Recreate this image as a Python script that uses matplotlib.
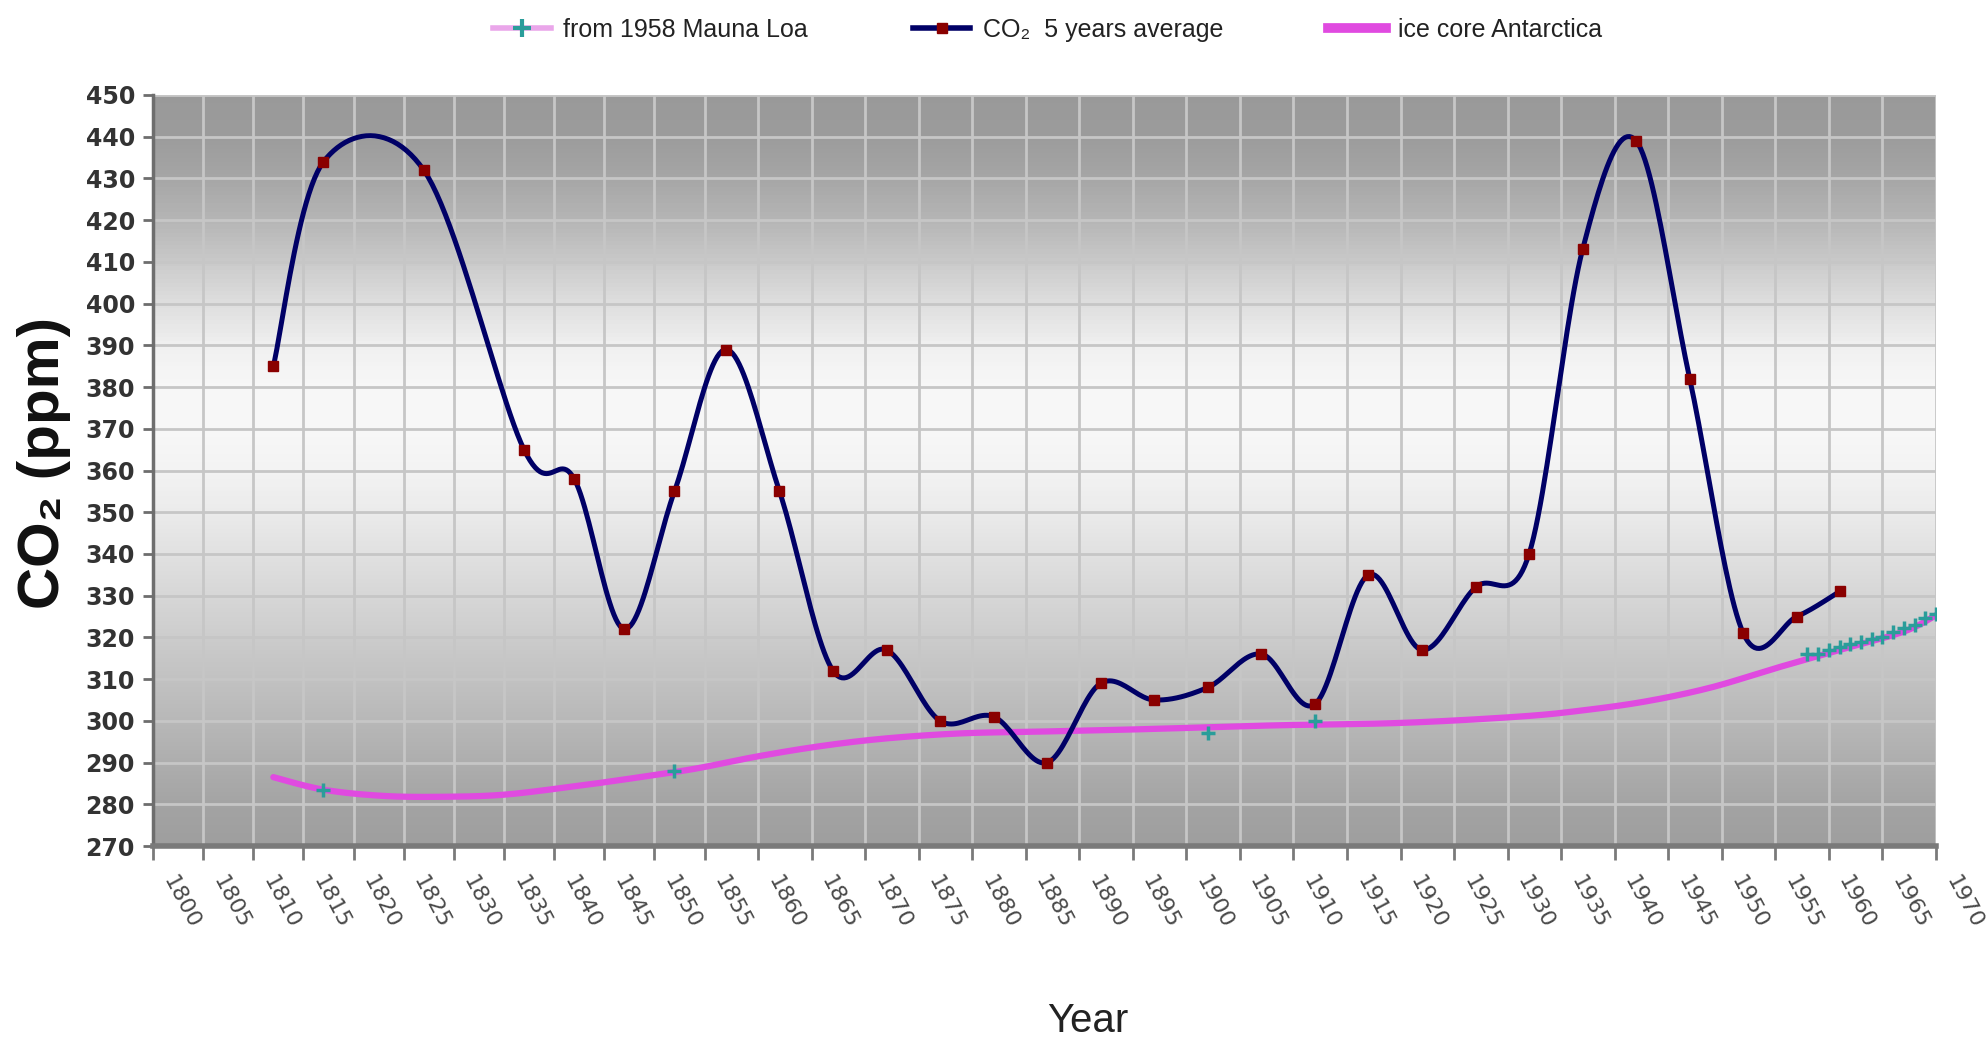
import numpy as np
import matplotlib
matplotlib.use("Agg")
import matplotlib.pyplot as plt
from matplotlib import font_manager
from matplotlib.lines import Line2D
from matplotlib.transforms import ScaledTranslation

# ---------------- data ----------------
co2_years = [1812, 1817, 1827, 1837, 1842, 1847, 1852, 1857, 1862, 1867,
             1872, 1877, 1882, 1887, 1892, 1897, 1902, 1907, 1912, 1917,
             1922, 1927, 1932, 1937, 1942, 1947, 1952, 1957, 1961]
co2_values = [385, 434, 432, 365, 358, 322, 355, 389, 355, 312,
              317, 300, 301, 290, 309, 305, 308, 316, 304, 335,
              317, 332, 340, 413, 439, 382, 321, 325, 331]

ice_years = [1812, 1817, 1823, 1829, 1835, 1842, 1848, 1854, 1860, 1866,
             1872, 1879, 1886, 1896, 1908, 1920, 1931, 1937, 1943, 1949,
             1955, 1961, 1967, 1970]
ice_values = [286.5, 283.5, 282.0, 281.8, 282.3, 284.3, 286.3, 288.5, 291.5, 294.0,
              295.8, 297.0, 297.4, 298.0, 298.9, 299.5, 301.0, 302.5, 304.7, 308.0,
              312.6, 317.0, 321.4, 325.3]

ml_years = [1817, 1852, 1902, 1912, 1958, 1959, 1960, 1961, 1962, 1963,
            1964, 1965, 1966, 1967, 1968, 1969, 1970]
ml_values = [283.5, 288.0, 297.0, 300.0, 316.0, 316.0, 316.9, 317.6, 318.5, 319.0,
             319.6, 320.0, 321.4, 322.2, 323.0, 324.6, 325.7]

x_ticks = list(range(1800, 1971, 5))
x_tick_labels = [str(y) for y in x_ticks]
y_ticks = list(range(270, 451, 10))

legend_labels = ["from 1958 Mauna Loa", "CO\u2082  5 years average", "ice core Antarctica"]

# ---------------- fonts ----------------
names = {f.name for f in font_manager.fontManager.ttflist}
HAS_NARROW = "Liberation Sans Narrow" in names
NARROW = ["Liberation Sans Narrow", "DejaVu Sans"] if HAS_NARROW else ["Liberation Sans", "DejaVu Sans"]
SANS = ["Liberation Sans", "DejaVu Sans"]

# ---------------- axis scale (image's year axis is slightly non-uniform) ----------------
BREAK = 1855.0
K = 53.5 / 50.1


def fwd(x):
    x = np.asarray(x, float)
    return np.where(x <= BREAK, x, BREAK + (x - BREAK) * K)


def inv(u):
    u = np.asarray(u, float)
    return np.where(u <= BREAK, u, BREAK + (u - BREAK) / K)


def smooth(xs, ys, n=24):
    """Excel-like smoothed line (uniform Catmull-Rom through the points)."""
    P = np.column_stack([fwd(xs), np.asarray(ys, float)])
    P = np.vstack([P[0], P, P[-1]])
    out = []
    t = np.linspace(0, 1, n, endpoint=False)[:, None]
    for i in range(1, len(P) - 2):
        p0, p1, p2, p3 = P[i - 1], P[i], P[i + 1], P[i + 2]
        seg = 0.5 * ((2 * p1) + (-p0 + p2) * t
                     + (2 * p0 - 5 * p1 + 4 * p2 - p3) * t ** 2
                     + (-p0 + 3 * p1 - 3 * p2 + p3) * t ** 3)
        out.append(seg)
    out.append(P[-2][None, :])
    out = np.vstack(out)
    return inv(out[:, 0]), out[:, 1]


# ---------------- figure ----------------
fig = plt.figure(figsize=(19.88, 10.42), dpi=100)
ax = fig.add_axes([153 / 1988, 1 - 846 / 1042, (1936 - 153) / 1988, (846 - 95) / 1042])
ax.set_xscale("function", functions=(fwd, inv))
ax.set_xlim(1800, 1970)
ax.set_ylim(270, 450)

# background vertical gradient
g_ppm = [270, 280, 290, 300, 310, 320, 330, 340, 350, 360, 370, 380, 390, 400, 410, 420, 430, 440, 450]
g_lvl = [0.62, 0.64, 0.68, 0.72, 0.76, 0.80, 0.84, 0.88, 0.92, 0.95, 0.97, 0.97, 0.94, 0.87, 0.79, 0.71, 0.65, 0.61, 0.60]
for v in np.arange(270, 450, 1.0):
    lv = float(np.interp(v + 0.5, g_ppm, g_lvl))
    ax.axhspan(v, v + 1, color=(lv, lv, lv), lw=0, zorder=0.5)

ax.set_axisbelow("line")
ax.grid(True, color="#c6c6c6", lw=2.0)

# series
ix, iy = smooth(ice_years, ice_values)
ax.plot(ix, iy, color="#e04ae0", lw=4.5, solid_capstyle="round", zorder=3)
ax.plot(ml_years, ml_values, ls="none", marker="+", ms=10, mew=2.5, color="#2a9d9a", zorder=4)
cx, cy = smooth(co2_years, co2_values)
ax.plot(cx, cy, color="#000066", lw=3.6, solid_capstyle="round", zorder=5)
ax.plot(co2_years, co2_values, ls="none", marker="s", ms=6.5, mfc="#8a0000", mec="#8a0000", zorder=6)

# axes styling
for s in ["top", "right"]:
    ax.spines[s].set_visible(False)
ax.spines["left"].set_color("#6e6e6e")
ax.spines["left"].set_linewidth(2.5)
ax.spines["bottom"].set_color("#7a7a7a")
ax.spines["bottom"].set_linewidth(4)

ax.set_yticks(y_ticks)
ax.set_yticklabels([str(v) for v in y_ticks])
ax.tick_params(axis="y", direction="out", length=7, width=2, color="#6e6e6e",
               labelsize=17, labelcolor="#333333", pad=6)
for lab in ax.get_yticklabels():
    lab.set_fontweight("bold")
    lab.set_family("DejaVu Sans")

ax.set_xticks(x_ticks)
ax.set_xticklabels(x_tick_labels)
ax.minorticks_off()
ax.tick_params(axis="x", direction="out", length=10, width=2, color="#7a7a7a",
               labelsize=16, labelcolor="#4a4a4a", pad=16)
shift = ScaledTranslation(4 / 72, 0, fig.dpi_scale_trans)
for lab in ax.get_xticklabels():
    lab.set_rotation(-62)
    lab.set_rotation_mode("anchor")
    lab.set_ha("left")
    lab.set_va("bottom")
    lab.set_family("DejaVu Sans")
    lab.set_transform(lab.get_transform() + shift)

# axis titles
fig.text(0.022, 0.556, "CO\u2082 (ppm)", rotation=90, ha="center", va="center",
         fontsize=42, fontweight="bold", family=SANS, color="#111111")
fig.text(0.547, 0.02, "Year", ha="center", va="center",
         fontsize=32 if HAS_NARROW else 29, family=NARROW, color="#222222")

# legend
h_ml = Line2D([], [], color="#eaa6ea", lw=4, marker="+", ms=13, mew=3, mec="#2a9d9a")
h_co2 = Line2D([], [], color="#000066", lw=4, marker="s", ms=7, mfc="#8a0000", mec="#8a0000")
h_ice = Line2D([], [], color="#e04ae0", lw=7)
fig.legend([h_ml, h_co2, h_ice], legend_labels, loc="center",
           bbox_to_anchor=(0.527, 0.971), ncol=3, frameon=False,
           prop={"family": NARROW, "size": 22 if HAS_NARROW else 18},
           handlelength=2.3, handletextpad=0.5, columnspacing=4.2,
           labelcolor="#222222")

fig.savefig("out.png", dpi=100, facecolor="white")
